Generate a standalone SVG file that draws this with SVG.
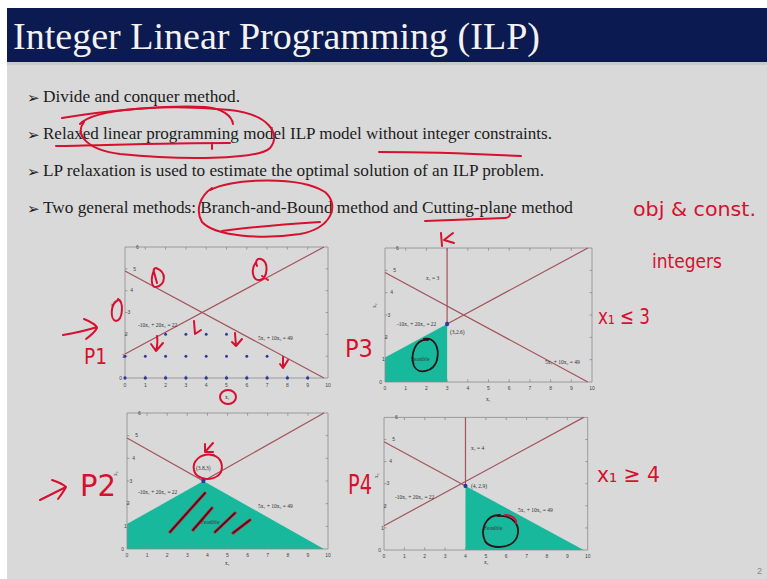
<svg xmlns="http://www.w3.org/2000/svg" width="767" height="579" viewBox="0 0 767 579">
<style>
.title{font-family:"Liberation Serif","DejaVu Serif",serif;font-size:38px;fill:#f2f2f2}
.bul{font-family:"Liberation Serif","DejaVu Serif",serif;font-size:17px;fill:#1c1c1c}
.arr{font-family:"DejaVu Sans",sans-serif;font-size:15px;fill:#1c1c1c}
.tk{font-family:"Liberation Sans","DejaVu Sans",sans-serif;font-size:5px;fill:#444}
.eq{font-family:"Liberation Serif","DejaVu Serif",serif;font-size:5.5px;fill:#333}
.frame{fill:none;stroke:#8c8c8c;stroke-width:0.8}
.ln{fill:none;stroke:#a4535e;stroke-width:1.2}
.feas{fill:#18b89c}
.dot{fill:#2a3a9c}
.ink{fill:none;stroke:#d6102e;stroke-width:2;stroke-linecap:round;stroke-linejoin:round}
.inkd{fill:none;stroke:#2a1416;stroke-width:1.8;stroke-linecap:round;stroke-linejoin:round}
.hw{font-family:"DejaVu Sans",sans-serif;fill:#d6102e}
</style>
<defs>
<rect id="box" x="0" y="0" width="10" height="6" vector-effect="non-scaling-stroke"/>
<path id="ticks" vector-effect="non-scaling-stroke" d="M1 0v.12M2 0v.12M3 0v.12M4 0v.12M5 0v.12M6 0v.12M7 0v.12M8 0v.12M9 0v.12M1 6v-.12M2 6v-.12M3 6v-.12M4 6v-.12M5 6v-.12M6 6v-.12M7 6v-.12M8 6v-.12M9 6v-.12M0 1h.12M0 2h.12M0 3h.12M0 4h.12M0 5h.12M10 1h-.12M10 2h-.12M10 3h-.12M10 4h-.12M10 5h-.12"/>
</defs>

<rect x="0" y="0" width="767" height="579" fill="#ffffff"/>
<rect x="7" y="62" width="760" height="517" fill="#d9d9d9"/>
<rect x="7" y="62" width="760" height="3" fill="#c9c9c9"/>

<g id="title">
<rect x="7" y="8" width="760" height="54" fill="#0b1a50"/>
<text class="title" x="13" y="49" textLength="527" lengthAdjust="spacingAndGlyphs">Integer Linear Programming (ILP)</text>
</g>

<g id="bullets">
<text class="arr" x="27" y="103">➢</text>
<text class="bul" x="43" y="102" textLength="197" lengthAdjust="spacingAndGlyphs">Divide and conquer method.</text>
<text class="arr" x="27" y="140">➢</text>
<text class="bul" x="43" y="139" textLength="509" lengthAdjust="spacingAndGlyphs">Relaxed linear programming model ILP model without integer constraints.</text>
<text class="arr" x="27" y="177">➢</text>
<text class="bul" x="43" y="176" textLength="501" lengthAdjust="spacingAndGlyphs">LP relaxation is used to estimate the optimal solution of an ILP problem.</text>
<text class="arr" x="27" y="214">➢</text>
<text class="bul" x="43" y="213" textLength="530" lengthAdjust="spacingAndGlyphs">Two general methods: Branch-and-Bound method and Cutting-plane method</text>
</g>

<g id="plot-p1">
<g transform="translate(125,378) scale(20.3,-21.833)">
<use href="#box" class="frame"/>
<use href="#ticks" class="frame"/>
<path class="ln" vector-effect="non-scaling-stroke" d="M0 1.1L9.8 6M0 4.9L9.8 0"/>
<g class="dot">
<circle cx="0" cy="1" r=".07"/><circle cx="1" cy="1" r=".07"/><circle cx="2" cy="1" r=".07"/><circle cx="3" cy="1" r=".07"/><circle cx="4" cy="1" r=".07"/><circle cx="5" cy="1" r=".07"/><circle cx="6" cy="1" r=".07"/><circle cx="7" cy="1" r=".07"/>
<circle cx="2" cy="2" r=".07"/><circle cx="3" cy="2" r=".07"/><circle cx="4" cy="2" r=".07"/><circle cx="5" cy="2" r=".07"/>
<circle cx="0" cy="0" r=".08"/><circle cx="1" cy="0" r=".08"/><circle cx="2" cy="0" r=".08"/><circle cx="3" cy="0" r=".08"/><circle cx="4" cy="0" r=".08"/><circle cx="5" cy="0" r=".08"/><circle cx="6" cy="0" r=".08"/><circle cx="7" cy="0" r=".08"/><circle cx="8" cy="0" r=".08"/><circle cx="9" cy="0" r=".08"/>
</g>
</g>
<text class="tk" text-anchor="middle" x="125 145.3 165.6 185.9 206.2 226.5 246.8 267.1 287.4 307.7" y="386.5">0123456789</text>
<text class="tk" text-anchor="middle" x="328" y="386.5">10</text>
<text class="tk" text-anchor="end" x="122" y="379.7 357.9 336 314.2 292.4 270.5 248.7">0123456</text>
<text class="eq" x="138" y="327">-10x₁ + 20x₂ = 22</text>
<text class="eq" x="258" y="340">5x₁ + 10x₂ = 49</text>
<text class="eq" x="225" y="399">x₁</text>
<text class="eq" transform="translate(114,306) rotate(-90)">x₂</text>
</g>

<g id="plot-p3">
<g transform="translate(385,382) scale(20.7,-22.333)">
<polygon class="feas" points="0,0 0,1.1 3,2.6 3,0"/>
<use href="#box" class="frame"/>
<use href="#ticks" class="frame"/>
<path class="ln" vector-effect="non-scaling-stroke" d="M3 2.6L9.8 6M0 4.9L9.8 0M3 6V2.6"/>
<circle class="dot" cx="3" cy="2.6" r=".1"/>
</g>
<text class="tk" text-anchor="middle" x="385 405.7 426.4 447.1 467.8 488.5 509.2 529.9 550.6 571.3" y="390">0123456789</text>
<text class="tk" text-anchor="middle" x="592" y="390">10</text>
<text class="tk" text-anchor="end" x="382" y="383.7 361.4 339 316.7 294.4 272 249.7">0123456</text>
<text class="eq" x="426" y="280">x₁ = 3</text>
<text class="eq" x="450" y="334">(3,2.6)</text>
<text class="eq" x="397" y="326">-10x₁ + 20x₂ = 22</text>
<text class="eq" x="545" y="364">5x₁ + 10x₂ = 49</text>
<text class="eq" x="411" y="361">Feasible</text>
<text class="eq" x="486" y="401">x₁</text>
<text class="eq" transform="translate(376,308) rotate(-90)">x₂</text>
</g>

<g id="plot-p2">
<g transform="translate(127,549) scale(20.1,-22.667)">
<polygon class="feas" points="0,0 0,1.1 3.8,3 9.8,0"/>
<use href="#box" class="frame"/>
<use href="#ticks" class="frame"/>
<path class="ln" vector-effect="non-scaling-stroke" d="M0 4.9L3.8 3L9.8 6"/>
<circle class="dot" cx="3.8" cy="3" r=".1"/>
</g>
<text class="tk" text-anchor="middle" x="127 147.1 167.2 187.3 207.4 227.5 247.6 267.7 287.8 307.9" y="557">0123456789</text>
<text class="tk" text-anchor="middle" x="328" y="557">10</text>
<text class="tk" text-anchor="end" x="124" y="550.7 528 505.4 482.7 460 437.4 414.7">0123456</text>
<text class="eq" x="196" y="470">(3.8,3)</text>
<text class="eq" x="138" y="494">-10x₁ + 20x₂ = 22</text>
<text class="eq" x="258" y="508">5x₁ + 10x₂ = 49</text>
<text class="eq" x="201" y="524">Feasible</text>
<text class="eq" x="225" y="565">x₁</text>
<text class="eq" transform="translate(117,476) rotate(-90)">x₂</text>
</g>

<g id="plot-p4">
<g transform="translate(384,550) scale(20.37,-22.1)">
<polygon class="feas" points="4,0 4,2.9 9.8,0"/>
<use href="#box" class="frame"/>
<use href="#ticks" class="frame"/>
<path class="ln" vector-effect="non-scaling-stroke" d="M4 6V2.9M0 4.9L4 2.9M0 1.1L9.8 6"/>
<circle class="dot" cx="4" cy="2.9" r=".1"/>
</g>
<text class="tk" text-anchor="middle" x="384 404.4 424.7 445.1 465.5 485.9 506.2 526.6 547 567.3" y="558">0123456789</text>
<text class="tk" text-anchor="middle" x="587.7" y="558">10</text>
<text class="tk" text-anchor="end" x="381" y="551.7 529.6 507.5 485.4 463.3 441.2 419.1">0123456</text>
<text class="eq" x="471" y="450">x₁ = 4</text>
<text class="eq" x="471" y="488">(4, 2.9)</text>
<text class="eq" x="395" y="499">-10x₁ + 20x₂ = 22</text>
<text class="eq" x="518" y="512">5x₁ + 10x₂ = 49</text>
<text class="eq" x="484" y="530">Feasible</text>
<text class="eq" x="484" y="564">x₁</text>
<text class="eq" transform="translate(377.5,478) rotate(-90)">x₂</text>
</g>

<g id="annotations">
<path class="ink" d="M80 124C95 108 170 104 230 110C268 114 282 134 270 148C258 160 180 160 120 154C88 150 74 135 84 122"/>
<path class="ink" d="M62 118C110 110 170 105 205 107C222 108 232 116 233 124"/>
<path class="ink" d="M56 146C110 145 170 143 230 143M212 143L212 149"/>
<path class="ink" d="M379 152C420 152 480 154 521 156"/>
<path class="ink" d="M210 190C235 178 300 176 325 192C340 205 332 228 300 234C260 240 215 236 202 222C195 210 200 196 212 188"/>
<path class="ink" d="M222 231C250 227 290 224 320 222"/>
<path class="ink" d="M425 221C450 220 480 219 505 218C508 218 510 216 510 214"/>
<path class="ink" d="M441 233L442 246M453 233L444 240L454 243"/>
<path class="ink" d="M154 270C150 280 152 288 156 287C166 285 167 272 156 268C154 268 153 270 154 272L157 283"/>
<path class="ink" d="M256 262C250 270 253 281 260 280C268 278 269 262 261 259C257 258 255 261 257 266M262 276L268 280"/>
<path class="ink" d="M118 300C110 304 110 320 116 321C123 320 124 302 118 299"/>
<path class="ink" d="M157 336C158 342 157 347 156 351M151 344L156 351L163 343"/>
<path class="ink" d="M194 321L195 334L201 330"/>
<path class="ink" d="M235 333L236 346M232 342L236 346L242 339"/>
<path class="ink" d="M283 357L283 367M280 364L283 368L288 360"/>
<ellipse class="ink" cx="228" cy="397" rx="8" ry="7"/>
<path class="ink" d="M214 455C200 452 192 462 194 470C196 481 216 482 221 472C224 463 219 455 210 455"/>
<path class="ink" d="M213 443L205 452M205 444L205 452L213 452"/>
<path class="ink" style="stroke-width:3" d="M170 532L205 493M193 530L212 508M215 532L235 513M233 533L250 520"/>
<path class="inkd" style="stroke-width:1.2" d="M170 532L205 493M193 530L212 508M215 532L235 513M233 533L250 520"/>
<path class="inkd" d="M428 340C415 338 410 355 414 366C418 375 434 372 437 360C440 347 434 337 424 339"/>
<path class="inkd" d="M500 515C485 515 480 530 485 541C490 550 512 549 517 537C521 525 513 515 498 516"/>
<path class="ink" d="M505 515C512 515 517 519 516 523"/>
<text class="hw" x="84" y="364" font-size="21" textLength="23" lengthAdjust="spacingAndGlyphs">P1</text>
<text class="hw" x="80" y="496" font-size="30" textLength="36" lengthAdjust="spacingAndGlyphs">P2</text>
<text class="hw" x="345" y="357" font-size="24" textLength="28" lengthAdjust="spacingAndGlyphs">P3</text>
<text class="hw" x="348" y="494" font-size="26" textLength="24" lengthAdjust="spacingAndGlyphs">P4</text>
<text class="hw" x="633" y="216" font-size="20" textLength="123" lengthAdjust="spacingAndGlyphs">obj &amp; const.</text>
<text class="hw" x="652" y="268" font-size="19" textLength="70" lengthAdjust="spacingAndGlyphs">integers</text>
<text class="hw" x="598" y="324" font-size="22" textLength="52" lengthAdjust="spacingAndGlyphs">x₁ ≤ 3</text>
<text class="hw" x="597" y="482" font-size="22" textLength="63" lengthAdjust="spacingAndGlyphs">x₁ ≥ 4</text>
</g>

<g id="connectors">
<path class="ink" d="M63 335C75 333 88 330 97 327M84 319C92 322 97 326 97 328C95 332 90 336 86 339"/>
<path class="ink" d="M40 500L66 487M52 480C58 482 63 484 66 487C64 491 61 495 58 499"/>
</g>

<text x="757" y="574" font-family="Liberation Sans, sans-serif" font-size="9" fill="#888">2</text>
</svg>
